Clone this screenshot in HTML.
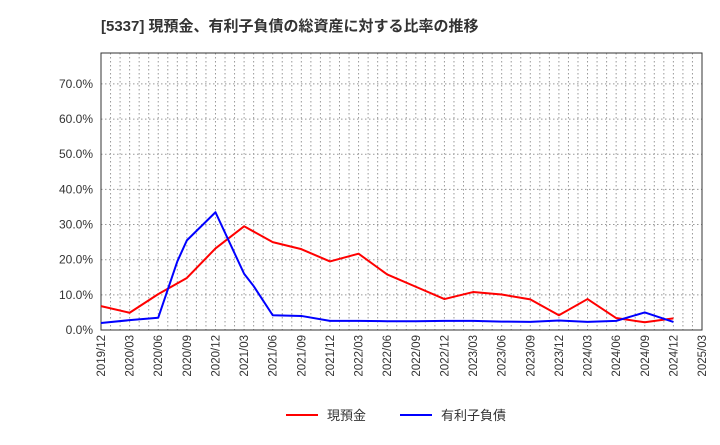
<!DOCTYPE html>
<html><head><meta charset="utf-8"><style>
body{margin:0;background:#fff;font-family:"Liberation Sans","Noto Sans CJK JP",sans-serif;}
svg text{font-family:"Liberation Sans","Noto Sans CJK JP",sans-serif;}
</style></head><body>
<svg id="c" width="720" height="440">
<text x="101" y="31" font-size="15" font-weight="bold" fill="#333">[5337]  現預金、有利子負債の総資産に対する比率の推移</text>
<g id="grid"></g><g id="axes"></g><g id="series"></g>
<g>
<line x1="286" y1="415" x2="318" y2="415" stroke="#f00" stroke-width="2"/>
<text x="327" y="420" font-size="13" fill="#333">現預金</text>
<line x1="400" y1="415" x2="432" y2="415" stroke="#00f" stroke-width="2"/>
<text x="441" y="420" font-size="13" fill="#333">有利子負債</text>
</g>
</svg>
<script>
const xLabels=["2019/12","2020/03","2020/06","2020/09","2020/12","2021/03","2021/06","2021/09","2021/12","2022/03","2022/06","2022/09","2022/12","2023/03","2023/06","2023/09","2023/12","2024/03","2024/06","2024/09","2024/12","2025/03"];
const yTicks=[0,10,20,30,40,50,60,70];
const cashMonths=[0,3,6,9,12,15,18,21,24,27,30,33,36,39,42,45,48,51,54,57,60];
const cashValues=[6.8,4.9,10.2,14.8,23.2,29.5,25,23,19.5,21.7,15.8,12.3,8.8,10.8,10.1,8.7,4.2,8.8,3.4,2.2,3.3];
const debtMonths=[0,3,6,8,9,12,15,16,18,21,24,27,30,33,36,39,42,45,48,51,54,57,60];
const debtValues=[2.0,2.8,3.5,19.5,25.5,33.5,16,12.5,4.2,4.0,2.6,2.6,2.5,2.5,2.6,2.6,2.4,2.3,2.7,2.3,2.6,5.0,2.3];
const L=101,R=702,T=53,B=330,maxM=63,maxY=78.8;
const X=m=>L+(R-L)*m/maxM, Y=v=>B-(B-T)*v/maxY;
const NS="http://www.w3.org/2000/svg";
function mk(tag,parent,attrs){const e=document.createElementNS(NS,tag);for(const k in attrs)e.setAttribute(k,attrs[k]);parent.appendChild(e);return e;}
const grid=document.getElementById('grid'),axes=document.getElementById('axes'),series=document.getElementById('series');
for(let m=1;m<maxM;m++){const l=mk('line',grid,{x1:X(m),x2:X(m),y1:T,y2:B,stroke:'#999','stroke-dasharray':'1.5,2.5','stroke-width':1});

}
yTicks.forEach(v=>{if(v>0){const l=mk('line',grid,{x1:L,x2:R,y1:Y(v),y2:Y(v),stroke:'#999','stroke-dasharray':'1.5,2.5'});

}
const t=mk('text',axes,{x:L-8,y:Y(v)+4,'text-anchor':'end','font-size':12,fill:'#333'});t.textContent=v.toFixed(1)+'%';

});
const fr=mk('rect',axes,{x:L,y:T,width:R-L,height:B-T,fill:'none',stroke:'#333'});


xLabels.forEach((s,i)=>{const x=X(i*3),y=B+5;const t=mk('text',axes,{x:x+4,y:y,'text-anchor':'end','font-size':11.5,fill:'#333',transform:`rotate(-90 ${x+4} ${y})`});t.textContent=s;

});
function line(ms,vs,color,name){const p=mk('polyline',series,{points:ms.map((m,i)=>X(m)+','+Y(vs[i])).join(' '),fill:'none',stroke:color,'stroke-width':2,'stroke-linejoin':'round'});

}
line(cashMonths,cashValues,'#f00','cash-line');
line(debtMonths,debtValues,'#00f','debt-line');
</script>
</body></html>
